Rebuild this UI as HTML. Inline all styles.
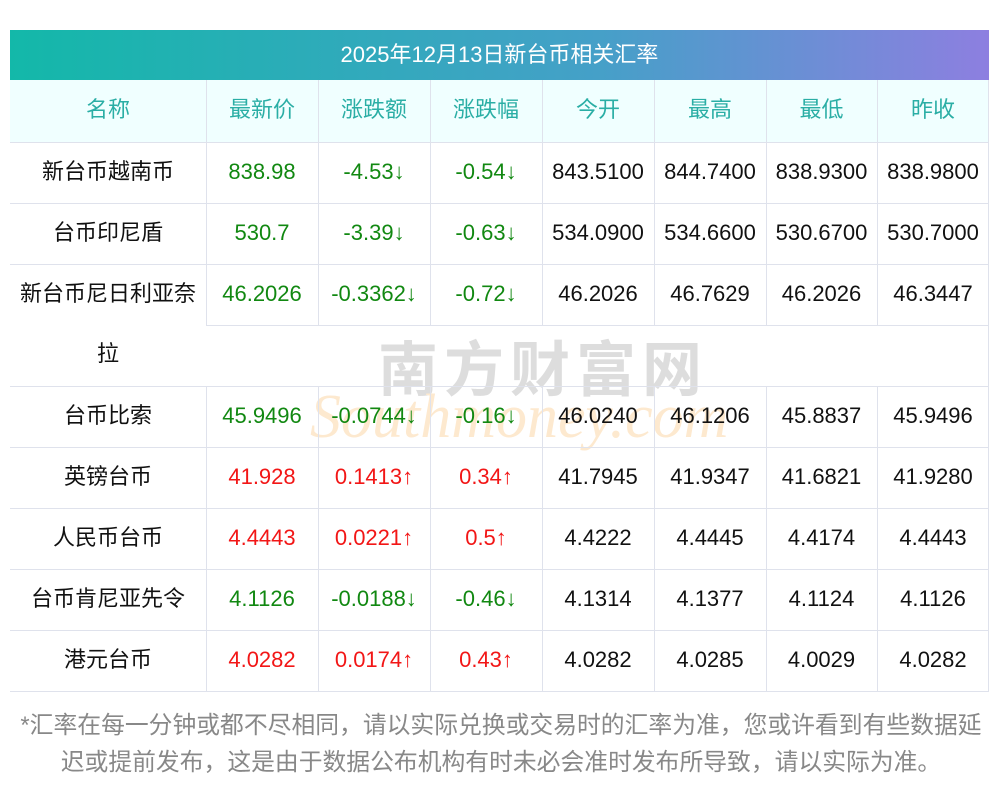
<!DOCTYPE html>
<html><head><meta charset="utf-8"><style>
body{margin:0;width:1000px;height:793px;background:#fff;position:relative;font-family:"Liberation Sans","Noto Sans CJK SC",sans-serif;overflow:hidden}
.t{position:absolute;left:10px;top:30px;width:979px;height:50px;background:linear-gradient(90deg,#13b8a9,#45a0c8 60%,#8d7fe0);color:#fff;font-size:22px;text-align:center;line-height:50px}
.hd{position:absolute;left:10px;top:80px;width:979px;height:62px;background:#f0ffff}
.c{position:absolute;text-align:center;font-size:22px;line-height:59px;height:61px;white-space:nowrap}
.h{color:#2aaea5;line-height:60px}
.g{color:#118811}.r{color:#f21616}.k{color:#111}
.hl{position:absolute;height:1px;background:#dfe2ec}
.vl{position:absolute;width:1px;background:#dfe2ec}
.f{position:absolute;left:0;width:1002px;text-align:center;font-size:23.8px;color:#888;line-height:37px;white-space:nowrap}
</style></head><body>
<div class="t">2025年12月13日新台币相关汇率</div>
<div class="hd"></div>
<div style="position:absolute;left:378px;top:322px;font-size:60px;color:#ddd;letter-spacing:6px;font-weight:bold">南方财富网</div>
<div style="position:absolute;left:310px;top:382px;font-size:62px;color:#fde9cf;font-style:italic;font-family:'Liberation Serif',serif">Southmoney.com</div>
<div id="g"></div>
<script>
var xs=[10,206,318,430,542,654,766,877,989];
var hdr=["名称","最新价","涨跌额","涨跌幅","今开","最高","最低","昨收"];
var rows=[
["新台币越南币","838.98","-4.53↓","-0.54↓","843.5100","844.7400","838.9300","838.9800","g"],
["台币印尼盾","530.7","-3.39↓","-0.63↓","534.0900","534.6600","530.6700","530.7000","g"],
["新台币尼日利亚奈","46.2026","-0.3362↓","-0.72↓","46.2026","46.7629","46.2026","46.3447","g"],
null,
["台币比索","45.9496","-0.0744↓","-0.16↓","46.0240","46.1206","45.8837","45.9496","g"],
["英镑台币","41.928","0.1413↑","0.34↑","41.7945","41.9347","41.6821","41.9280","r"],
["人民币台币","4.4443","0.0221↑","0.5↑","4.4222","4.4445","4.4174","4.4443","r"],
["台币肯尼亚先令","4.1126","-0.0188↓","-0.46↓","4.1314","4.1377","4.1124","4.1126","g"],
["港元台币","4.0282","0.0174↑","0.43↑","4.0282","4.0285","4.0029","4.0282","r"]];
var h="";
for(var i=0;i<8;i++)h+='<div class="c h" style="left:'+xs[i]+'px;top:80px;width:'+(xs[i+1]-xs[i])+'px">'+hdr[i]+'</div>';
var ys=[142,203,264,325,386,447,508,569,630,691];
h+='<div class="hl" style="left:10px;width:979px;top:142px"></div>';
for(var r=0;r<9;r++){var y=ys[r];
 var lx=(r==2)?206:10;
 h+='<div class="hl" style="left:'+lx+'px;width:'+(989-lx)+'px;top:'+ys[r+1]+'px"></div>';
 if(rows[r]===null){h+='<div class="c k" style="left:10px;width:196px;top:'+(y-1)+'px">拉</div>';continue;}
 var R=rows[r];
 for(var i=0;i<8;i++){var cl=i==0?"k":(i<4?R[8]:"k");
  h+='<div class="c '+cl+'" style="left:'+xs[i]+'px;top:'+y+'px;width:'+(xs[i+1]-xs[i])+'px">'+R[i]+'</div>';}
}
for(var i=1;i<8;i++){
 h+='<div class="vl" style="left:'+xs[i]+'px;top:80px;height:245px"></div>';
 h+='<div class="vl" style="left:'+xs[i]+'px;top:386px;height:305px"></div>';
}
h+='<div class="vl" style="left:988px;top:80px;height:611px"></div>';
document.getElementById("g").innerHTML=h;
</script>
<div class="f" style="top:707px">*汇率在每一分钟或都不尽相同，请以实际兑换或交易时的汇率为准，您或许看到有些数据延</div>
<div class="f" style="top:744px">迟或提前发布，这是由于数据公布机构有时未必会准时发布所导致，请以实际为准。</div>
</body></html>
